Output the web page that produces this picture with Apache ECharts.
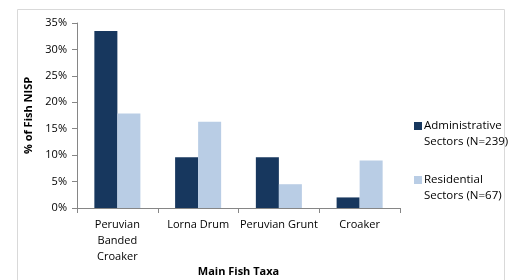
<!DOCTYPE html>
<html>
<head>
<meta charset="utf-8">
<script src="https://cdn.jsdelivr.net/npm/echarts@6/dist/echarts.min.js"></script>
<style>
  html, body { margin: 0; padding: 0; background: #fff; }
  #chart { width: 509px; height: 280px; }
</style>
</head>
<body>
<div id="chart"></div>
<script>
// 数据
var categories = ['Peruvian\nBanded\nCroaker', 'Lorna Drum', 'Peruvian Grunt', 'Croaker'];
var adminValues = [33.5, 9.6, 9.6, 2.0];
var residentialValues = [17.9, 16.3, 4.5, 9.0];
var seriesNames = ['Administrative\nSectors (N=239)', 'Residential\nSectors (N=67)'];

var font = 'Open Sans';
// 图例方块对齐第一行文字
var legendIcon = 'path://M0,0L8,0L8,8L0,8Z M0,24L8,24Z';
var myChart = echarts.init(document.getElementById('chart'));
var option = {
    animation: false,
    textStyle: { fontFamily: font },
    graphic: [{
        type: 'rect',
        shape: { x: 17.5, y: 9.5, width: 487, height: 280 },
        style: { fill: 'none', stroke: '#d9d9d9', lineWidth: 1 }
    }],
    grid: { left: 77, right: 109, top: 23, bottom: 72, containLabel: false, outerBoundsMode: 'none' },
    legend: {
        orient: 'vertical',
        left: 409,
        top: 113,
        itemWidth: 8,
        itemHeight: 24,
        itemGap: 22,
        icon: legendIcon,
        textStyle: { fontFamily: font, fontSize: 11.5, color: '#000', lineHeight: 16, padding: [0, 0, 0, -3] },
        data: seriesNames
    },
    xAxis: {
        type: 'category',
        data: categories,
        name: 'Main Fish Taxa',
        nameLocation: 'middle',
        nameGap: 58,
        nameMoveOverlap: false,
        nameTextStyle: { fontFamily: font, fontSize: 11, fontWeight: 'bold', color: '#000' },
        axisLine: { lineStyle: { color: '#868686' } },
        axisTick: { show: true, length: 5, lineStyle: { color: '#868686' } },
        axisLabel: { interval: 0, fontFamily: font, fontSize: 11, color: '#000', lineHeight: 16, margin: 9 }
    },
    yAxis: {
        type: 'value',
        min: 0,
        max: 35,
        interval: 5,
        name: '% of Fish NISP',
        nameLocation: 'middle',
        nameGap: 38,
        nameTextStyle: { fontFamily: font, fontSize: 11, fontWeight: 'bold', color: '#000' },
        axisLine: { show: true, lineStyle: { color: '#868686' } },
        axisTick: { show: true, length: 5, lineStyle: { color: '#868686' } },
        splitLine: { show: false },
        axisLabel: { formatter: '{value}%', fontFamily: font, fontSize: 11, color: '#000', margin: 10 }
    },
    series: [
        {
            name: seriesNames[0],
            type: 'bar',
            data: adminValues,
            barGap: '0%',
            barCategoryGap: '43%',
            itemStyle: { color: '#17375e' }
        },
        {
            name: seriesNames[1],
            type: 'bar',
            data: residentialValues,
            itemStyle: { color: '#b9cde5' }
        }
    ]
};
myChart.setOption(option);
</script>
</body>
</html>
